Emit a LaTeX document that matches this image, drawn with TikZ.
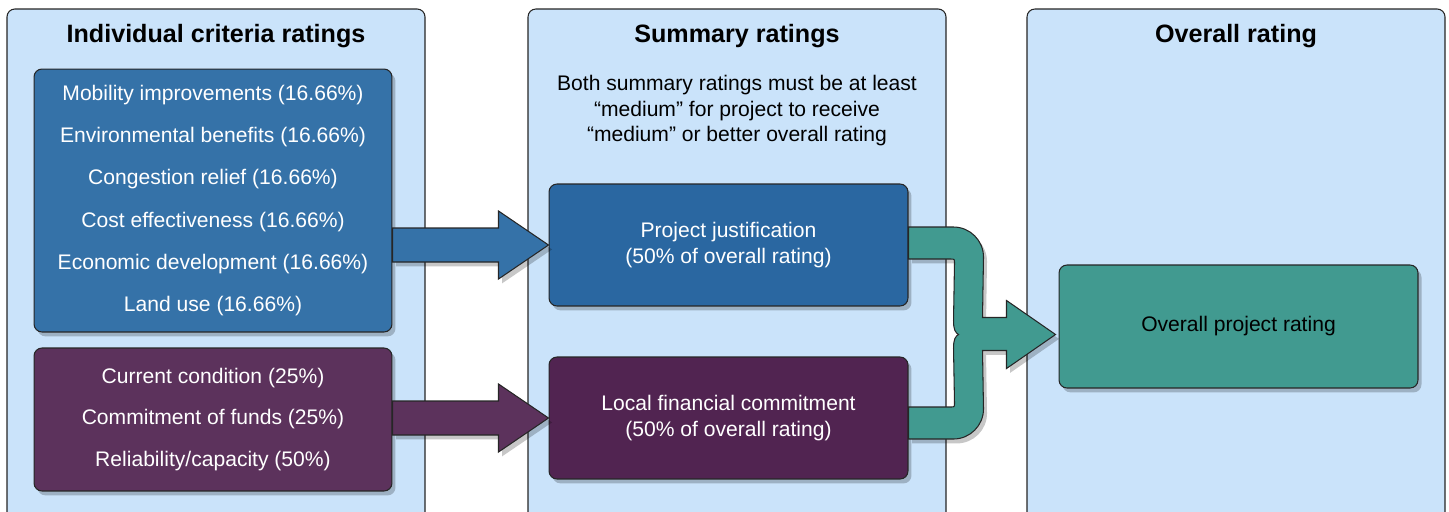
\documentclass[tikz,border=0pt]{standalone}
\usepackage{fontspec}
\setmainfont{Liberation Sans}
\usetikzlibrary{calc, shadows}

\definecolor{panelbg}{HTML}{CAE3FA}
\definecolor{critblue}{HTML}{3572A8}
\definecolor{justblue}{HTML}{2A67A1}
\definecolor{critpurple}{HTML}{5C325C}
\definecolor{localpurple}{HTML}{512451}
\definecolor{rateteal}{HTML}{419A90}

\tikzset{
  panel/.style={draw=black!85, line width=0.6pt, fill=panelbg, rounded corners=4.5pt},
  title/.style={font=\fontsize{14.3pt}{17pt}\selectfont\bfseries},
  softshadow/.style={drop shadow={shadow xshift=2pt, shadow yshift=-2.5pt, opacity=0.22, fill=black}},
  box/.style={draw=black!85, line width=0.6pt, rounded corners=4.5pt, softshadow,
    align=center, text=white, inner sep=0pt},
  block/.style={draw=black!85, line width=0.6pt, softshadow, line join=miter}
}

\begin{document}
\begin{tikzpicture}[x=0.02cm, y=-0.02cm]
    \useasboundingbox (0,0) rectangle (1449,511);

    % Panels with their titles
    \foreach \x/\name/\title in {7/crit/Individual criteria ratings, 528/summ/Summary ratings, 1027/over/Overall rating}
    {
        \draw[panel] (\x,9) rectangle ++(418,520);
        \node[title] (title-\name) at (\x+209,36.5) {\title};
    }

    % Individual criteria
    \node[box, fill=critblue, minimum width=7.16cm, minimum height=5.26cm,
          font=\fontsize{12pt}{24pt}\selectfont] (crit) at (213,200.5)
        {Mobility improvements (16.66\%)\\ Environmental benefits (16.66\%)\\ Congestion relief (16.66\%)\\
         Cost effectiveness (16.66\%)\\ Economic development (16.66\%)\\ Land use (16.66\%)};
    \node[box, fill=critpurple, minimum width=7.16cm, minimum height=2.86cm,
          font=\fontsize{12pt}{23.8pt}\selectfont] (fin) at (213,419.5)
        {Current condition (25\%)\\ Commitment of funds (25\%)\\ Reliability/capacity (50\%)};

    % Summary ratings
    \node[align=center, font=\fontsize{12pt}{14.5pt}\selectfont] (note) at (737,111)
        {Both summary ratings must be at least\\ “medium” for project to receive\\ “medium” or better overall rating};
    \node[box, fill=justblue, minimum width=7.18cm, minimum height=2.44cm,
          font=\fontsize{12pt}{14.3pt}\selectfont] (just) at (728.5,245)
        {Project justification\\ (50\% of overall rating)};
    \node[box, fill=localpurple, minimum width=7.18cm, minimum height=2.44cm,
          font=\fontsize{12pt}{14.3pt}\selectfont] (local) at (728.5,418)
        {Local financial commitment\\ (50\% of overall rating)};

    % Overall rating
    \node[box, fill=rateteal, text=black, minimum width=7.18cm, minimum height=2.46cm,
          font=\fontsize{12pt}{14.3pt}\selectfont] (overall) at (1238.5,326.5) {Overall project rating};

    % Block arrows into the summary boxes
    \foreach \from/\to/\col in {crit/just/critblue, fin/local/critpurple}
    {
        \coordinate (tip) at (\to.west);
        \coordinate (start) at (\from.east |- tip);
        \filldraw[block, fill=\col] ($(start)+(0,-17)$) -- ($(tip)+(-50,-17)$) -- ($(tip)+(-50,-34)$) -- (tip)
            -- ($(tip)+(-50,34)$) -- ($(tip)+(-50,17)$) -- ($(start)+(0,17)$) -- cycle;
    }

    % Merging arrow into the overall rating
    \coordinate (m1) at ($(just.east)+(0,-2)$);
    \coordinate (m2) at ($(local.east)+(0,5)$);
    \coordinate (end) at ($(overall.west)+(-3,8)$);
    \filldraw[block, fill=rateteal]
        ($(m1)+(0,-16)$) -- ($(m1)+(45,-16)$) .. controls ($(m1)+(61.5,-16)$) and ($(m1)+(75,-2.5)$) .. ($(m1)+(75,14)$)
        -- ($(end)+(-73,-17)$) -- ($(end)+(-49,-17)$) -- ($(end)+(-49,-34)$) -- (end)
        -- ($(end)+(-49,34)$) -- ($(end)+(-49,16)$) -- ($(end)+(-73,16)$)
        -- ($(m2)+(75,-14)$) .. controls ($(m2)+(75,2.5)$) and ($(m2)+(61.5,16)$) .. ($(m2)+(45,16)$) -- ($(m2)+(0,16)$)
        -- ($(m2)+(0,-16)$) -- ($(m2)+(42,-16)$) .. controls ($(m2)+(46,-16)$) .. ($(m2)+(46,-20)$)
        -- ($(end)+(-102,14)$) .. controls ($(end)+(-102,4)$) and ($(end)+(-100,2)$) .. ($(end)+(-97,0)$)
        .. controls ($(end)+(-100,-2)$) and ($(end)+(-102,-4)$) .. ($(end)+(-102,-14)$)
        -- ($(m1)+(46,20)$) .. controls ($(m1)+(46,16)$) .. ($(m1)+(42,16)$) -- ($(m1)+(0,16)$) -- cycle;
\end{tikzpicture}
\end{document}
